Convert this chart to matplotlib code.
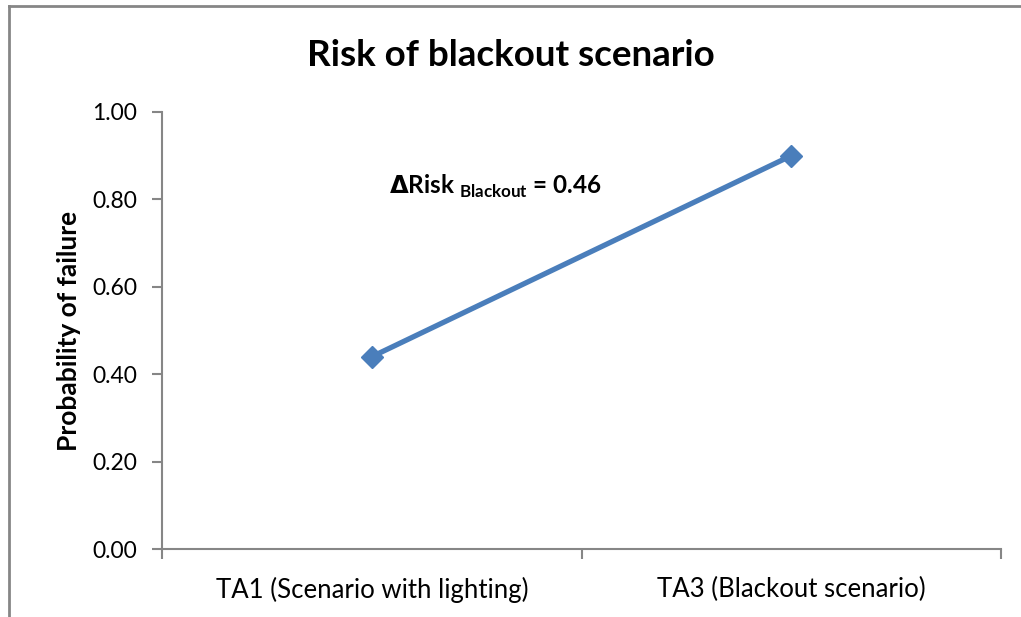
import matplotlib
matplotlib.use("Agg")
import matplotlib.pyplot as plt
from matplotlib.lines import Line2D

categories = ["TA1 (Scenario with lighting)", "TA3 (Blackout scenario)"]
probability = [0.44, 0.90]
y_ticks = [0.0, 0.2, 0.4, 0.6, 0.8, 1.0]
delta_risk = round(probability[1] - probability[0], 2)

BLUE = "#4A7EBB"
GRAY = "#868686"
FONT = ["Lato", "DejaVu Sans"]

W, H = 1021, 617
fig = plt.figure(figsize=(W / 100, H / 100), dpi=100)

# chart-area frame: only the left and top edges fall inside the canvas
fx, fy = 9 / W, 1 - 6 / H
fig.add_artist(Line2D([fx, fx], [0, fy], transform=fig.transFigure,
                      color=GRAY, linewidth=2))
fig.add_artist(Line2D([fx, 1], [fy, fy], transform=fig.transFigure,
                      color=GRAY, linewidth=2))

ax = fig.add_axes([162 / W, 1 - 549 / H, 839 / W, 437 / H])
x = list(range(len(categories)))
ax.plot(x, probability, color=BLUE, linewidth=3.8, marker="D",
        markersize=11, markerfacecolor=BLUE, markeredgecolor=BLUE,
        solid_capstyle="butt")

ax.set_xlim(-0.5, len(categories) - 0.5)
ax.set_ylim(0, 1.0)
ax.set_yticks(y_ticks)
ax.set_yticklabels([f"{v:.2f}" for v in y_ticks], fontsize=16.5, family=FONT)
ax.set_xticks([i - 0.5 for i in range(len(categories) + 1)])
ax.set_xticklabels([])
ax.set_xticks(x, minor=True)
ax.set_xticklabels(categories, minor=True, fontsize=18.5, family=FONT)
ax.tick_params(axis="x", which="minor", length=0, pad=20)
ax.tick_params(axis="x", which="major", length=7, width=1.5, color=GRAY)
ax.tick_params(axis="y", length=7, width=1.5, color=GRAY, pad=11)

for side in ("top", "right"):
    ax.spines[side].set_visible(False)
for side in ("left", "bottom"):
    ax.spines[side].set_color(GRAY)
    ax.spines[side].set_linewidth(1.5)

ax.set_ylabel("Probability of failure", fontsize=19, fontweight="bold",
              family=FONT, labelpad=8)

fig.text(0.5, 1 - 55 / H, "Risk of blackout scenario", ha="center",
         va="center", fontsize=26.5, fontweight="bold", family=FONT)

ax.text(0.04, 0.83,
        r"$\mathbf{\Delta}$Risk $_{\mathregular{Blackout}}$ = " + f"{delta_risk:.2f}",
        fontsize=17.5, fontweight="bold", family=FONT, ha="left", va="center")

fig.savefig("out.png", dpi=100)
